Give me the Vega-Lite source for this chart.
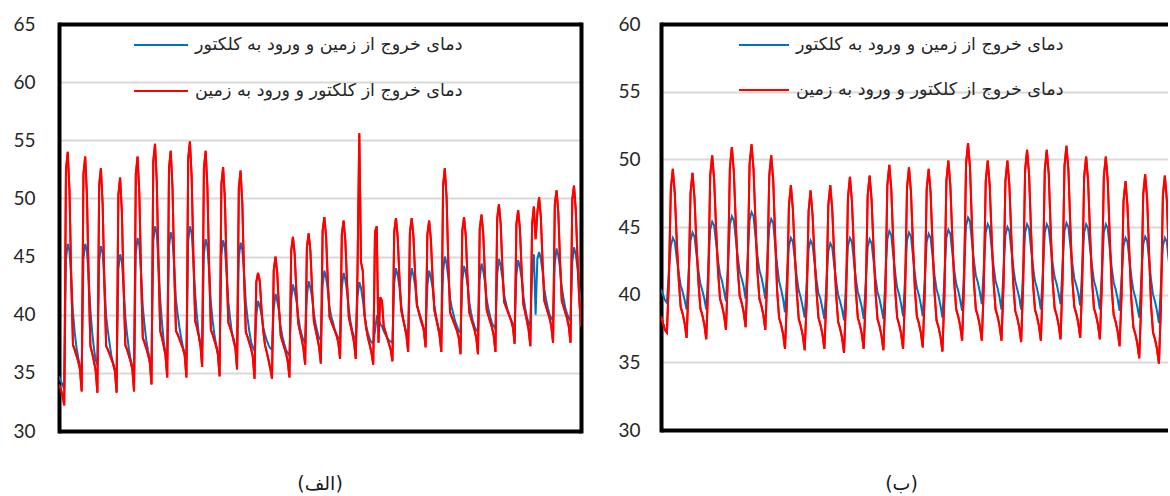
{
"$schema":"https://vega.github.io/schema/vega-lite/v6.json",
"padding":{"top":15,"left":0,"right":0,"bottom":0},
"background":"white",
"config":{"view":{"stroke":null},"font":"Lato"},
"spacing":20,
"resolve":{"scale":{"x":"independent","y":"independent","color":"independent"},"legend":{"color":"independent"}},
"datasets":{
"L":[
{"t":0,"a":34.7,"b":34.0},{"t":1,"a":34.3,"b":33.6},{"t":2,"a":34.0,"b":33.1},{"t":3,"a":33.6,"b":32.2},{"t":4,"a":44.8,"b":52.5},
{"t":5,"a":46.1,"b":54.0},{"t":6,"a":45.5,"b":50.7},{"t":7,"a":43.1,"b":43.2},{"t":8,"a":40.2,"b":37.4},{"t":9,"a":38.5,"b":37.0},
{"t":10,"a":37.2,"b":36.5},{"t":11,"a":36.3,"b":36.0},{"t":12,"a":35.6,"b":35.3},{"t":13,"a":35.3,"b":33.4},{"t":14,"a":44.8,"b":52.1},
{"t":15,"a":46.1,"b":53.6},{"t":16,"a":45.5,"b":50.3},{"t":17,"a":43.2,"b":43.0},{"t":18,"a":40.4,"b":37.3},{"t":19,"a":38.5,"b":36.7},
{"t":20,"a":37.1,"b":36.0},{"t":21,"a":36.1,"b":35.2},{"t":22,"a":35.7,"b":33.3},{"t":23,"a":44.6,"b":51.1},{"t":24,"a":45.9,"b":52.6},
{"t":25,"a":45.3,"b":49.5},{"t":26,"a":42.8,"b":42.7},{"t":27,"a":39.9,"b":37.3},{"t":28,"a":38.6,"b":37.0},{"t":29,"a":37.5,"b":36.6},
{"t":30,"a":36.5,"b":36.2},{"t":31,"a":35.8,"b":35.8},{"t":32,"a":35.2,"b":35.2},{"t":33,"a":35.0,"b":33.3},{"t":34,"a":43.9,"b":50.3},
{"t":35,"a":45.2,"b":51.8},{"t":36,"a":44.6,"b":48.9},{"t":37,"a":42.4,"b":42.4},{"t":38,"a":39.8,"b":37.4},{"t":39,"a":38.3,"b":37.0},
{"t":40,"a":37.1,"b":36.5},{"t":41,"a":36.2,"b":36.0},{"t":42,"a":35.6,"b":35.3},{"t":43,"a":35.3,"b":33.4},{"t":44,"a":45.3,"b":52.1},
{"t":45,"a":46.6,"b":53.6},{"t":46,"a":46.0,"b":50.5},{"t":47,"a":43.6,"b":43.5},{"t":48,"a":40.7,"b":38.0},{"t":49,"a":39.1,"b":37.6},
{"t":50,"a":37.8,"b":37.1},{"t":51,"a":36.9,"b":36.6},{"t":52,"a":36.2,"b":35.9},{"t":53,"a":35.9,"b":34.0},{"t":54,"a":46.3,"b":53.2},
{"t":55,"a":47.6,"b":54.7},{"t":56,"a":47.0,"b":51.5},{"t":57,"a":44.4,"b":44.2},{"t":58,"a":41.3,"b":38.6},{"t":59,"a":39.3,"b":38.0},
{"t":60,"a":37.7,"b":37.3},{"t":61,"a":36.7,"b":36.5},{"t":62,"a":36.2,"b":34.6},{"t":63,"a":45.8,"b":52.6},{"t":64,"a":47.1,"b":54.1},
{"t":65,"a":46.5,"b":51.0},{"t":66,"a":44.1,"b":44.0},{"t":67,"a":41.3,"b":38.6},{"t":68,"a":40.0,"b":38.3},{"t":69,"a":38.9,"b":37.9},
{"t":70,"a":38.0,"b":37.5},{"t":71,"a":37.2,"b":37.1},{"t":72,"a":36.7,"b":36.5},{"t":73,"a":36.5,"b":34.6},{"t":74,"a":46.3,"b":53.4},
{"t":75,"a":47.6,"b":54.9},{"t":76,"a":47.0,"b":51.8},{"t":77,"a":44.6,"b":44.9},{"t":78,"a":41.8,"b":39.5},{"t":79,"a":39.9,"b":38.9},
{"t":80,"a":38.4,"b":38.2},{"t":81,"a":37.4,"b":37.4},{"t":82,"a":37.0,"b":35.5},{"t":83,"a":45.2,"b":52.6},{"t":84,"a":46.5,"b":54.1},
{"t":85,"a":45.9,"b":51.0},{"t":86,"a":43.7,"b":44.1},{"t":87,"a":41.0,"b":38.7},{"t":88,"a":39.5,"b":38.3},{"t":89,"a":38.3,"b":37.8},
{"t":90,"a":37.4,"b":37.3},{"t":91,"a":36.8,"b":36.6},{"t":92,"a":36.5,"b":34.7},{"t":93,"a":45.1,"b":51.2},{"t":94,"a":46.4,"b":52.7},
{"t":95,"a":45.8,"b":50.0},{"t":96,"a":43.7,"b":44.0},{"t":97,"a":41.1,"b":39.3},{"t":98,"a":39.7,"b":38.9},{"t":99,"a":38.5,"b":38.4},
{"t":100,"a":37.7,"b":37.9},{"t":101,"a":37.1,"b":37.2},{"t":102,"a":36.8,"b":35.3},{"t":103,"a":44.9,"b":50.9},{"t":104,"a":46.2,"b":52.4},
{"t":105,"a":45.6,"b":49.6},{"t":106,"a":43.6,"b":43.4},{"t":107,"a":41.1,"b":38.5},{"t":108,"a":39.7,"b":38.1},{"t":109,"a":38.6,"b":37.6},
{"t":110,"a":37.7,"b":37.1},{"t":111,"a":37.2,"b":36.4},{"t":112,"a":36.9,"b":34.5},{"t":113,"a":39.9,"b":42.8},{"t":114,"a":41.2,"b":43.6},
{"t":115,"a":40.7,"b":42.9},{"t":116,"a":40.0,"b":40.5},{"t":117,"a":38.9,"b":38.6},{"t":118,"a":38.3,"b":37.4},{"t":119,"a":37.8,"b":36.8},
{"t":120,"a":37.4,"b":36.1},{"t":121,"a":37.1,"b":35.4},{"t":122,"a":37.0,"b":34.5},{"t":123,"a":40.5,"b":43.8},{"t":124,"a":41.8,"b":45.0},
{"t":125,"a":41.2,"b":43.6},{"t":126,"a":40.3,"b":40.6},{"t":127,"a":38.9,"b":38.2},{"t":128,"a":38.1,"b":37.7},{"t":129,"a":37.5,"b":37.2},
{"t":130,"a":37.0,"b":36.7},{"t":131,"a":36.7,"b":36.0},{"t":132,"a":36.5,"b":34.6},{"t":133,"a":41.3,"b":45.5},{"t":134,"a":42.6,"b":46.7},
{"t":135,"a":42.0,"b":45.2},{"t":136,"a":41.2,"b":41.9},{"t":137,"a":39.9,"b":39.3},{"t":138,"a":38.9,"b":38.6},{"t":139,"a":38.3,"b":37.9},
{"t":140,"a":37.8,"b":37.1},{"t":141,"a":37.6,"b":35.7},{"t":142,"a":41.6,"b":45.8},{"t":143,"a":42.9,"b":47.0},{"t":144,"a":42.3,"b":45.5},
{"t":145,"a":41.5,"b":42.1},{"t":146,"a":40.1,"b":39.4},{"t":147,"a":39.2,"b":38.7},{"t":148,"a":38.5,"b":38.0},{"t":149,"a":38.0,"b":37.2},
{"t":150,"a":37.8,"b":35.8},{"t":151,"a":42.5,"b":47.2},{"t":152,"a":43.8,"b":48.4},{"t":153,"a":43.2,"b":46.7},{"t":154,"a":42.1,"b":42.8},
{"t":155,"a":40.6,"b":39.8},{"t":156,"a":39.8,"b":39.4},{"t":157,"a":39.3,"b":39.0},{"t":158,"a":38.7,"b":38.6},{"t":159,"a":38.3,"b":38.2},
{"t":160,"a":38.0,"b":37.6},{"t":161,"a":37.9,"b":36.2},{"t":162,"a":42.3,"b":46.9},{"t":163,"a":43.6,"b":48.1},{"t":164,"a":43.0,"b":46.4},
{"t":165,"a":42.0,"b":42.7},{"t":166,"a":40.5,"b":39.8},{"t":167,"a":39.4,"b":39.1},{"t":168,"a":38.6,"b":38.4},{"t":169,"a":38.1,"b":37.6},
{"t":170,"a":37.9,"b":36.2},{"t":171,"a":41.5,"b":43.8},{"t":172,"a":42.8,"b":55.6},{"t":173,"a":42.3,"b":44.5},{"t":174,"a":41.3,"b":43.8},
{"t":175,"a":40.0,"b":40.0},{"t":176,"a":39.0,"b":38.8},{"t":177,"a":38.4,"b":38.0},{"t":178,"a":37.9,"b":37.4},{"t":179,"a":37.6,"b":36.7},
{"t":180,"a":37.6,"b":35.7},{"t":181,"a":38.6,"b":47.1},{"t":182,"a":39.8,"b":47.6},{"t":183,"a":39.6,"b":37.6},{"t":184,"a":39.2,"b":41.5},
{"t":185,"a":39.0,"b":41.2},{"t":186,"a":38.6,"b":39.0},{"t":187,"a":38.3,"b":38.5},{"t":188,"a":38.0,"b":38.0},{"t":189,"a":37.8,"b":37.5},
{"t":190,"a":37.7,"b":37.0},{"t":191,"a":37.6,"b":36.0},{"t":192,"a":42.7,"b":47.1},{"t":193,"a":44.0,"b":48.3},{"t":194,"a":43.4,"b":46.7},
{"t":195,"a":42.4,"b":43.2},{"t":196,"a":40.9,"b":40.4},{"t":197,"a":39.8,"b":39.7},{"t":198,"a":39.0,"b":39.0},{"t":199,"a":38.5,"b":38.2},
{"t":200,"a":38.3,"b":36.8},{"t":201,"a":42.7,"b":47.1},{"t":202,"a":44.0,"b":48.3},{"t":203,"a":43.4,"b":46.8},{"t":204,"a":42.5,"b":43.4},
{"t":205,"a":41.0,"b":40.8},{"t":206,"a":40.2,"b":40.3},{"t":207,"a":39.6,"b":39.8},{"t":208,"a":39.1,"b":39.3},{"t":209,"a":38.8,"b":38.6},
{"t":210,"a":38.6,"b":37.2},{"t":211,"a":42.5,"b":46.9},{"t":212,"a":43.8,"b":48.1},{"t":213,"a":43.2,"b":46.5},{"t":214,"a":42.3,"b":43.1},
{"t":215,"a":40.8,"b":40.4},{"t":216,"a":39.9,"b":39.7},{"t":217,"a":39.1,"b":39.0},{"t":218,"a":38.6,"b":38.2},{"t":219,"a":38.4,"b":36.8},
{"t":220,"a":43.7,"b":51.1},{"t":221,"a":45.0,"b":52.6},{"t":222,"a":44.4,"b":50.1},{"t":223,"a":43.2,"b":44.5},{"t":224,"a":41.4,"b":40.2},
{"t":225,"a":40.6,"b":39.8},{"t":226,"a":40.0,"b":39.4},{"t":227,"a":39.4,"b":39.0},{"t":228,"a":39.0,"b":38.6},{"t":229,"a":38.6,"b":38.0},
{"t":230,"a":38.5,"b":36.6},{"t":231,"a":42.9,"b":47.2},{"t":232,"a":44.2,"b":48.4},{"t":233,"a":43.6,"b":46.8},{"t":234,"a":42.6,"b":43.1},
{"t":235,"a":41.1,"b":40.2},{"t":236,"a":40.2,"b":39.7},{"t":237,"a":39.5,"b":39.2},{"t":238,"a":39.0,"b":38.7},{"t":239,"a":38.7,"b":38.0},
{"t":240,"a":38.5,"b":36.6},{"t":241,"a":43.1,"b":47.4},{"t":242,"a":44.4,"b":48.6},{"t":243,"a":43.8,"b":47.0},{"t":244,"a":42.8,"b":43.3},
{"t":245,"a":41.3,"b":40.4},{"t":246,"a":40.5,"b":39.9},{"t":247,"a":39.8,"b":39.4},{"t":248,"a":39.3,"b":38.9},{"t":249,"a":39.0,"b":38.2},
{"t":250,"a":38.8,"b":36.8},{"t":251,"a":43.5,"b":48.3},{"t":252,"a":44.8,"b":49.5},{"t":253,"a":44.2,"b":47.8},{"t":254,"a":43.2,"b":44.0},
{"t":255,"a":41.7,"b":41.1},{"t":256,"a":41.0,"b":40.7},{"t":257,"a":40.4,"b":40.3},{"t":258,"a":39.9,"b":39.9},{"t":259,"a":39.5,"b":39.5},
{"t":260,"a":39.2,"b":38.9},{"t":261,"a":39.1,"b":37.5},{"t":262,"a":43.4,"b":47.8},{"t":263,"a":44.7,"b":49.0},{"t":264,"a":44.1,"b":47.4},
{"t":265,"a":43.1,"b":43.8},{"t":266,"a":41.6,"b":40.9},{"t":267,"a":40.6,"b":40.2},{"t":268,"a":39.8,"b":39.5},{"t":269,"a":39.3,"b":38.7},
{"t":270,"a":39.0,"b":37.3},{"t":271,"a":43.5,"b":47.8},{"t":272,"a":45.2,"b":49.3},{"t":273,"a":40.0,"b":46.5},{"t":274,"a":44.8,"b":48.8},
{"t":275,"a":45.4,"b":50.1},{"t":276,"a":44.8,"b":48.4},{"t":277,"a":43.7,"b":44.5},{"t":278,"a":42.2,"b":41.2},{"t":279,"a":41.3,"b":40.7},
{"t":280,"a":40.6,"b":40.2},{"t":281,"a":40.0,"b":39.7},{"t":282,"a":39.7,"b":39.0},{"t":283,"a":39.5,"b":37.6},{"t":284,"a":44.4,"b":49.5},
{"t":285,"a":45.7,"b":50.7},{"t":286,"a":45.1,"b":48.8},{"t":287,"a":44.0,"b":44.6},{"t":288,"a":42.3,"b":41.2},{"t":289,"a":41.4,"b":40.7},
{"t":290,"a":40.6,"b":40.2},{"t":291,"a":40.1,"b":39.7},{"t":292,"a":39.7,"b":39.0},{"t":293,"a":39.5,"b":37.6},{"t":294,"a":44.5,"b":49.9},
{"t":295,"a":45.8,"b":51.1},{"t":296,"a":45.2,"b":49.0},{"t":297,"a":44.0,"b":44.8},{"t":298,"a":42.3,"b":41.3},{"t":299,"a":41.0,"b":39.0}
],
"R":[
{"t":0,"a":40.4,"b":38.4},{"t":1,"a":40.0,"b":37.9},{"t":2,"a":39.6,"b":37.4},{"t":3,"a":39.4,"b":37.2},{"t":4,"a":41.8,"b":41.0},
{"t":5,"a":43.6,"b":47.8},{"t":6,"a":44.2,"b":49.3},{"t":7,"a":43.9,"b":47.5},{"t":8,"a":42.7,"b":44.0},{"t":9,"a":41.6,"b":41.1},
{"t":10,"a":40.7,"b":39.1},{"t":11,"a":40.2,"b":38.6},{"t":12,"a":39.6,"b":37.9},{"t":13,"a":38.9,"b":36.8},{"t":14,"a":41.5,"b":40.5},
{"t":15,"a":44.0,"b":47.5},{"t":16,"a":44.6,"b":49.0},{"t":17,"a":44.3,"b":47.2},{"t":18,"a":43.0,"b":43.8},{"t":19,"a":41.8,"b":41.0},
{"t":20,"a":40.8,"b":39.0},{"t":21,"a":40.3,"b":38.5},{"t":22,"a":39.7,"b":37.8},{"t":23,"a":38.9,"b":36.7},{"t":24,"a":41.8,"b":40.8},
{"t":25,"a":44.8,"b":48.8},{"t":26,"a":45.4,"b":50.3},{"t":27,"a":45.1,"b":48.5},{"t":28,"a":43.8,"b":44.9},{"t":29,"a":42.5,"b":41.7},
{"t":30,"a":41.5,"b":39.7},{"t":31,"a":41.0,"b":39.2},{"t":32,"a":40.3,"b":38.5},{"t":33,"a":39.5,"b":37.4},{"t":34,"a":42.3,"b":41.5},
{"t":35,"a":45.2,"b":49.4},{"t":36,"a":45.8,"b":50.9},{"t":37,"a":45.5,"b":49.1},{"t":38,"a":44.1,"b":45.3},{"t":39,"a":42.8,"b":41.9},
{"t":40,"a":41.7,"b":39.9},{"t":41,"a":41.2,"b":39.4},{"t":42,"a":40.6,"b":38.7},{"t":43,"a":39.7,"b":37.6},{"t":44,"a":42.6,"b":41.7},
{"t":45,"a":45.5,"b":49.6},{"t":46,"a":46.1,"b":51.1},{"t":47,"a":45.8,"b":49.3},{"t":48,"a":44.3,"b":45.4},{"t":49,"a":42.9,"b":41.7},
{"t":50,"a":41.8,"b":39.7},{"t":51,"a":41.3,"b":39.2},{"t":52,"a":40.6,"b":38.5},{"t":53,"a":39.7,"b":37.4},{"t":54,"a":42.4,"b":41.3},
{"t":55,"a":45.0,"b":48.8},{"t":56,"a":45.6,"b":50.3},{"t":57,"a":45.3,"b":48.5},{"t":58,"a":43.7,"b":44.3},{"t":59,"a":42.2,"b":40.3},
{"t":60,"a":41.0,"b":38.3},{"t":61,"a":40.4,"b":37.8},{"t":62,"a":39.7,"b":37.1},{"t":63,"a":38.7,"b":36.0},{"t":64,"a":41.2,"b":39.6},
{"t":65,"a":43.6,"b":46.6},{"t":66,"a":44.2,"b":48.1},{"t":67,"a":43.9,"b":46.3},{"t":68,"a":42.6,"b":43.0},{"t":69,"a":41.3,"b":40.2},
{"t":70,"a":40.3,"b":38.2},{"t":71,"a":39.8,"b":37.7},{"t":72,"a":39.1,"b":37.0},{"t":73,"a":38.3,"b":35.9},{"t":74,"a":40.9,"b":39.4},
{"t":75,"a":43.4,"b":46.2},{"t":76,"a":44.0,"b":47.7},{"t":77,"a":43.7,"b":45.9},{"t":78,"a":42.4,"b":42.8},{"t":79,"a":41.1,"b":40.3},
{"t":80,"a":40.1,"b":38.3},{"t":81,"a":39.7,"b":37.8},{"t":82,"a":39.0,"b":37.1},{"t":83,"a":38.2,"b":36.0},{"t":84,"a":40.7,"b":39.6},
{"t":85,"a":43.2,"b":46.6},{"t":86,"a":43.8,"b":48.1},{"t":87,"a":43.5,"b":46.3},{"t":88,"a":42.2,"b":42.9},{"t":89,"a":41.0,"b":40.0},
{"t":90,"a":40.0,"b":38.0},{"t":91,"a":39.5,"b":37.5},{"t":92,"a":38.9,"b":36.8},{"t":93,"a":38.1,"b":35.7},{"t":94,"a":40.8,"b":39.6},
{"t":95,"a":43.6,"b":47.2},{"t":96,"a":44.2,"b":48.7},{"t":97,"a":43.9,"b":46.9},{"t":98,"a":42.5,"b":43.4},{"t":99,"a":41.2,"b":40.3},
{"t":100,"a":40.2,"b":38.3},{"t":101,"a":39.7,"b":37.8},{"t":102,"a":39.1,"b":37.1},{"t":103,"a":38.2,"b":36.0},{"t":104,"a":40.9,"b":39.8},
{"t":105,"a":43.5,"b":47.3},{"t":106,"a":44.1,"b":48.8},{"t":107,"a":43.8,"b":47.0},{"t":108,"a":42.5,"b":43.4},{"t":109,"a":41.2,"b":40.2},
{"t":110,"a":40.2,"b":38.2},{"t":111,"a":39.7,"b":37.7},{"t":112,"a":39.0,"b":37.0},{"t":113,"a":38.2,"b":35.9},{"t":114,"a":41.1,"b":40.0},
{"t":115,"a":44.1,"b":48.1},{"t":116,"a":44.7,"b":49.6},{"t":117,"a":44.4,"b":47.8},{"t":118,"a":42.9,"b":43.9},{"t":119,"a":41.6,"b":40.3},
{"t":120,"a":40.5,"b":38.3},{"t":121,"a":40.0,"b":37.8},{"t":122,"a":39.3,"b":37.1},{"t":123,"a":38.4,"b":36.0},{"t":124,"a":41.2,"b":40.0},
{"t":125,"a":44.0,"b":47.9},{"t":126,"a":44.6,"b":49.4},{"t":127,"a":44.3,"b":47.6},{"t":128,"a":42.9,"b":43.8},{"t":129,"a":41.5,"b":40.4},
{"t":130,"a":40.5,"b":38.4},{"t":131,"a":40.0,"b":37.9},{"t":132,"a":39.3,"b":37.2},{"t":133,"a":38.4,"b":36.1},{"t":134,"a":41.1,"b":40.1},
{"t":135,"a":43.9,"b":47.8},{"t":136,"a":44.5,"b":49.3},{"t":137,"a":44.2,"b":47.5},{"t":138,"a":42.8,"b":43.6},{"t":139,"a":41.4,"b":40.1},
{"t":140,"a":40.4,"b":38.1},{"t":141,"a":39.9,"b":37.6},{"t":142,"a":39.2,"b":36.9},{"t":143,"a":38.3,"b":35.8},{"t":144,"a":41.2,"b":40.0},
{"t":145,"a":44.2,"b":48.4},{"t":146,"a":44.8,"b":49.9},{"t":147,"a":44.5,"b":48.1},{"t":148,"a":43.1,"b":44.3},{"t":149,"a":41.8,"b":40.9},
{"t":150,"a":40.8,"b":38.9},{"t":151,"a":40.3,"b":38.4},{"t":152,"a":39.6,"b":37.7},{"t":153,"a":38.8,"b":36.6},{"t":154,"a":41.9,"b":41.0},
{"t":155,"a":45.1,"b":49.7},{"t":156,"a":45.7,"b":51.2},{"t":157,"a":45.4,"b":49.4},{"t":158,"a":43.9,"b":45.1},{"t":159,"a":42.5,"b":40.9},
{"t":160,"a":41.4,"b":38.9},{"t":161,"a":40.9,"b":38.4},{"t":162,"a":40.2,"b":37.7},{"t":163,"a":39.3,"b":36.6},{"t":164,"a":42.0,"b":40.6},
{"t":165,"a":44.6,"b":48.4},{"t":166,"a":45.2,"b":49.9},{"t":167,"a":44.9,"b":48.1},{"t":168,"a":43.4,"b":44.3},{"t":169,"a":42.1,"b":40.9},
{"t":170,"a":41.0,"b":38.9},{"t":171,"a":40.5,"b":38.4},{"t":172,"a":39.8,"b":37.7},{"t":173,"a":38.9,"b":36.6},{"t":174,"a":41.6,"b":40.6},
{"t":175,"a":44.4,"b":48.4},{"t":176,"a":45.0,"b":49.9},{"t":177,"a":44.7,"b":48.1},{"t":178,"a":43.3,"b":44.3},{"t":179,"a":42.0,"b":40.8},
{"t":180,"a":41.0,"b":38.8},{"t":181,"a":40.4,"b":38.3},{"t":182,"a":39.8,"b":37.6},{"t":183,"a":38.9,"b":36.5},{"t":184,"a":41.7,"b":40.8},
{"t":185,"a":44.6,"b":49.2},{"t":186,"a":45.2,"b":50.7},{"t":187,"a":44.9,"b":48.9},{"t":188,"a":43.4,"b":44.8},{"t":189,"a":42.1,"b":40.9},
{"t":190,"a":41.0,"b":38.9},{"t":191,"a":40.5,"b":38.4},{"t":192,"a":39.8,"b":37.7},{"t":193,"a":38.9,"b":36.6},{"t":194,"a":41.7,"b":40.8},
{"t":195,"a":44.6,"b":49.2},{"t":196,"a":45.2,"b":50.7},{"t":197,"a":44.9,"b":48.9},{"t":198,"a":43.6,"b":44.8},{"t":199,"a":42.3,"b":41.0},
{"t":200,"a":41.3,"b":39.0},{"t":201,"a":40.8,"b":38.5},{"t":202,"a":40.1,"b":37.8},{"t":203,"a":39.3,"b":36.7},{"t":204,"a":42.0,"b":41.0},
{"t":205,"a":44.7,"b":49.5},{"t":206,"a":45.3,"b":51.0},{"t":207,"a":45.0,"b":49.2},{"t":208,"a":43.6,"b":45.0},{"t":209,"a":42.3,"b":41.1},
{"t":210,"a":41.2,"b":39.1},{"t":211,"a":40.7,"b":38.6},{"t":212,"a":40.1,"b":37.9},{"t":213,"a":39.2,"b":36.8},{"t":214,"a":41.9,"b":40.8},
{"t":215,"a":44.6,"b":48.7},{"t":216,"a":45.2,"b":50.2},{"t":217,"a":44.9,"b":48.4},{"t":218,"a":43.4,"b":44.5},{"t":219,"a":42.1,"b":41.0},
{"t":220,"a":41.0,"b":39.0},{"t":221,"a":40.5,"b":38.5},{"t":222,"a":39.8,"b":37.8},{"t":223,"a":38.9,"b":36.7},{"t":224,"a":41.7,"b":40.8},
{"t":225,"a":44.6,"b":48.7},{"t":226,"a":45.2,"b":50.2},{"t":227,"a":44.9,"b":48.4},{"t":228,"a":43.4,"b":44.3},{"t":229,"a":42.0,"b":40.5},
{"t":230,"a":40.9,"b":38.5},{"t":231,"a":40.4,"b":38.0},{"t":232,"a":39.7,"b":37.3},{"t":233,"a":38.8,"b":36.2},{"t":234,"a":41.2,"b":39.9},
{"t":235,"a":43.6,"b":46.9},{"t":236,"a":44.2,"b":48.4},{"t":237,"a":43.9,"b":46.6},{"t":238,"a":42.6,"b":42.9},{"t":239,"a":41.3,"b":39.6},
{"t":240,"a":40.3,"b":37.6},{"t":241,"a":39.8,"b":37.1},{"t":242,"a":39.1,"b":36.4},{"t":243,"a":38.3,"b":35.3},{"t":244,"a":41.0,"b":39.4},
{"t":245,"a":43.7,"b":47.4},{"t":246,"a":44.3,"b":48.9},{"t":247,"a":44.0,"b":47.1},{"t":248,"a":42.5,"b":43.0},{"t":249,"a":41.1,"b":39.2},
{"t":250,"a":40.0,"b":37.2},{"t":251,"a":39.5,"b":36.7},{"t":252,"a":38.8,"b":36.0},{"t":253,"a":37.9,"b":34.9},{"t":254,"a":40.7,"b":39.1},
{"t":255,"a":43.6,"b":47.3},{"t":256,"a":44.2,"b":48.8},{"t":257,"a":43.9,"b":47.0},{"t":258,"a":42.5,"b":43.0},{"t":259,"a":41.0,"b":39.5}
]
},
"hconcat":[
{
"width":522,"height":407,
"data":{"name":"L"},
"transform":[{"fold":["a","b"],"as":["k","v"]}],
"title":{"text":"(الف)","orient":"bottom","font":"DejaVu Sans","fontSize":19,"fontWeight":"normal","color":"#1a1a1a","offset":34},
"layer":[
{
"mark":{"type":"line","strokeWidth":2,"clip":true},
"encoding":{
"x":{"field":"t","type":"quantitative","scale":{"domain":[0,299],"nice":false,"zero":false},
"axis":{"orient":"bottom","labels":false,"ticks":false,"tickSize":0,"grid":false,"domain":true,"domainColor":"black","domainWidth":4,"title":null}},
"y":{"field":"v","type":"quantitative","scale":{"domain":[30,65],"nice":false,"zero":false},
"axis":{"orient":"left","values":[30,35,40,45,50,55,60,65],"title":null,"grid":true,"gridColor":"#d9d9d9","gridWidth":2,"domain":true,"domainColor":"black","domainWidth":4,"domainCap":"square","ticks":false,"tickSize":0,"labelPadding":24,"labelFont":"Lato","labelFontSize":19,"labelColor":"#262626","minExtent":59,"maxExtent":59}},
"color":{"field":"k","type":"nominal","scale":{"domain":["a","b"],"range":["#0070C0","#FF0000"]},
"legend":{"orient":"none","legendX":74,"legendY":-7,"title":null,"symbolType":"stroke","symbolSize":2916,"symbolStrokeWidth":2,"labelFont":"DejaVu Sans","labelFontSize":17.5,"labelColor":"#262626","labelLimit":500,"rowPadding":9,"labelOffset":6,"padding":0,
"labelExpr":"datum.label == 'a' ? 'دمای خروج از زمین و ورود به کلکتور' : 'دمای خروج از کلکتور و ورود به زمین'"}}
}
},
{
"transform":[{"filter":"datum.k == 'b'"}],
"mark":{"type":"line","strokeWidth":2,"clip":true,"color":"#FF0000"},
"encoding":{
"x":{"field":"t","type":"quantitative","axis":{"orient":"top","labels":false,"ticks":false,"tickSize":0,"grid":false,"domain":true,"domainColor":"black","domainWidth":4,"title":null}},
"y":{"field":"v","type":"quantitative","axis":{"orient":"right","labels":false,"ticks":false,"tickSize":0,"grid":false,"domain":true,"domainColor":"black","domainWidth":4,"domainCap":"square","title":null}}
}
}
],
"resolve":{"axis":{"x":"independent","y":"independent"}}
},
{
"width":507,"height":406,
"data":{"name":"R"},
"transform":[{"fold":["a","b"],"as":["k","v"]}],
"title":{"text":"(ب)","orient":"bottom","font":"DejaVu Sans","fontSize":19,"fontWeight":"normal","color":"#1a1a1a","offset":35,"dx":-13},
"layer":[
{
"mark":{"type":"line","strokeWidth":2,"clip":true},
"encoding":{
"x":{"field":"t","type":"quantitative","scale":{"domain":[0,257.6],"nice":false,"zero":false},
"axis":{"orient":"bottom","labels":false,"ticks":false,"tickSize":0,"grid":false,"domain":true,"domainColor":"black","domainWidth":4,"title":null}},
"y":{"field":"v","type":"quantitative","scale":{"domain":[30,60],"nice":false,"zero":false},
"axis":{"orient":"left","values":[30,35,40,45,50,55,60],"title":null,"grid":true,"gridColor":"#d9d9d9","gridWidth":2,"domain":true,"domainColor":"black","domainWidth":4,"domainCap":"square","ticks":false,"tickSize":0,"labelPadding":21,"labelFont":"Lato","labelFontSize":19,"labelColor":"#262626","minExtent":60,"maxExtent":60}},
"color":{"field":"k","type":"nominal","scale":{"domain":["a","b"],"range":["#0070C0","#FF0000"]},
"legend":{"orient":"none","legendX":77,"legendY":-5,"title":null,"symbolType":"stroke","symbolSize":2500,"symbolStrokeWidth":2,"labelFont":"DejaVu Sans","labelFontSize":17.5,"labelColor":"#262626","labelLimit":500,"rowPadding":10,"labelOffset":6,"padding":0,
"labelExpr":"datum.label == 'a' ? 'دمای خروج از زمین و ورود به کلکتور' : 'دمای خروج از کلکتور و ورود به زمین'"}}
}
},
{
"transform":[{"filter":"datum.k == 'b'"}],
"mark":{"type":"line","strokeWidth":2,"clip":true,"color":"#FF0000"},
"encoding":{
"x":{"field":"t","type":"quantitative","axis":{"orient":"top","labels":false,"ticks":false,"tickSize":0,"grid":false,"domain":true,"domainColor":"black","domainWidth":4,"title":null}},
"y":{"field":"v","type":"quantitative","axis":null}
}
}
],
"resolve":{"axis":{"x":"independent","y":"independent"}}
}
]
}
